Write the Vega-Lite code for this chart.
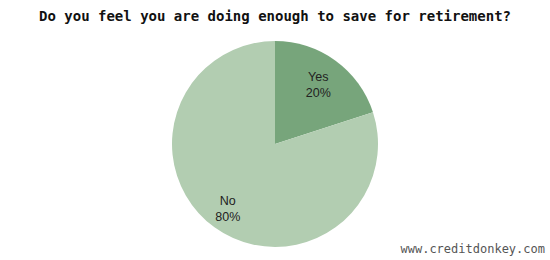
{
  "$schema": "https://vega.github.io/schema/vega-lite/v6.json",
  "autosize": {"type": "fit", "contains": "padding"},
  "width": 550,
  "height": 260,
  "padding": {"top": 10, "left": 0, "right": 0, "bottom": 0},
  "background": "white",
  "view": {"stroke": null},
  "title": {
    "text": "Do you feel you are doing enough to save for retirement?",
    "font": "DejaVu Sans Mono",
    "fontSize": 14,
    "fontWeight": "bold",
    "color": "#111111",
    "anchor": "middle",
    "baseline": "top",
    "offset": 4
  },
  "layer": [
    {
      "data": {
        "values": [
          {"answer": "Yes", "value": 20, "label": "Yes\n20%"},
          {"answer": "No", "value": 80, "label": "No\n80%"}
        ]
      },
      "encoding": {
        "theta": {"field": "value", "type": "quantitative", "stack": true},
        "order": {"field": "value", "sort": "ascending"}
      },
      "layer": [
        {
          "mark": {"type": "arc", "outerRadius": 103, "stroke": null},
          "encoding": {
            "color": {
              "field": "answer",
              "type": "nominal",
              "scale": {"domain": ["Yes", "No"], "range": ["#77a57b", "#b2cdb1"]},
              "legend": null
            }
          }
        },
        {
          "mark": {"type": "text", "radius": 77, "dy": -5, "dx": -2, "font": "Liberation Sans", "fontSize": 12.5, "lineBreak": "\n", "lineHeight": 16, "color": "#222222", "align": "center", "baseline": "middle"},
          "encoding": {"text": {"field": "label"}}
        }
      ]
    },
    {
      "data": {"values": [{"site": "www.creditdonkey.com"}]},
      "mark": {"type": "text", "font": "DejaVu Sans Mono", "fontSize": 12, "color": "#555555", "align": "right", "baseline": "middle"},
      "encoding": {
        "text": {"field": "site"},
        "x": {"value": {"expr": "width - 5"}},
        "y": {"value": {"expr": "height - 11"}}
      }
    }
  ]
}
